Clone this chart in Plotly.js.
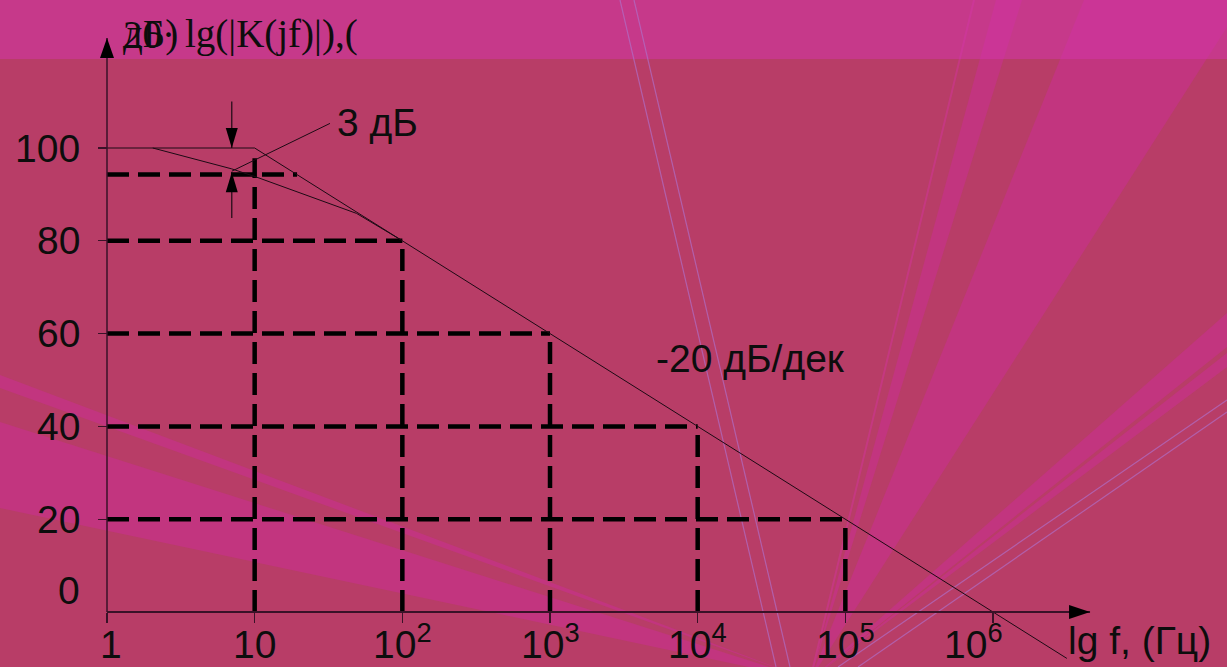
<!DOCTYPE html>
<html>
<head>
<meta charset="utf-8">
<script src="https://cdn.plot.ly/plotly-3.0.1.min.js"></script>
<style>
  html, body { margin: 0; padding: 0; background: #b83d67; }
  #chart { width: 1227px; height: 667px; }
</style>
</head>
<body>
<div id="chart"></div>
<script>
// ---- Data: frequency in decades (lg f), gain in dB ----
const decades = [0, 1, 2, 3, 4, 5, 6];
const decadeLabels = ['1', '10', '10<sup>2</sup>', '10<sup>3</sup>', '10<sup>4</sup>', '10<sup>5</sup>', '10<sup>6</sup>'];
const gainTicks = [0, 20, 40, 60, 80, 100];
const gainLabels = ['0', '20', '40', '60', '80', '100'];

// Asymptotic response: flat at 100 dB up to the corner, then -20 dB/decade
const asymptoteLgF = [0, 1, 6.5];
const asymptoteGain = [100, 100, -10];

// Real response rounding off near the corner
const responseLgF = [0.31, 0.845, 1.015, 1.69, 1.985];
const responseGain = [100, 95.5, 93.7, 85.9, 80.3];

// Read-off levels at each decade
const readoffLgF = [2, 3, 4, 5];
const readoffGain = [80, 60, 40, 20];

// Corner-frequency guide
const cornerLgF = 1;
const cornerGuideTop = 97.8;
const dropLevel = 94.3;
const dropLevelEnd = 1.287;

// 3 dB marker
const markLgF = 0.845;
const markUpper = [110, 100];
const markLower = [84.9, 94.8];
const leaderLgF = [0.845, 1.51];
const leaderGain = [95.0, 105.3];

// Axis extents
const yAxisTop = 123.7;
const xAxisEnd = 6.657;

// ---- Geometry of the drawing area ----
const W = 1227, H = 667;
const originX = 107, originY = 612;      // pixel position of (lg f = 0, 0 dB)
const pxPerDecade = 147.67, pxPerDb = 4.64;
const xRange = [-originX / pxPerDecade, (W - originX) / pxPerDecade];
const yRange = [-(H - originY) / pxPerDb, originY / pxPerDb];

const ink = '#0d0d0d';
const thin = '#1c0a14';
const axisInk = '#3a1228';
const sans = 'Liberation Sans, Arial, sans-serif';
const serif = 'Liberation Serif, Times New Roman, serif';
const textSize = 39;

// ---- Traces ----
const traces = [];
function seg(x, y, color, width, dash) {
  traces.push({
    type: 'scatter', mode: 'lines', x: x, y: y, hoverinfo: 'skip', showlegend: false,
    line: { color: color, width: width, dash: dash || 'solid' }
  });
}
const dashStyle = '22px,9px';
const dashWidth = 4.5;

// dashed read-off grid
readoffLgF.forEach((lf, i) => {
  seg([0, lf], [readoffGain[i], readoffGain[i]], '#000', dashWidth, dashStyle);
  seg([lf, lf], [0, readoffGain[i]], '#000', dashWidth, dashStyle);
});
seg([cornerLgF, cornerLgF], [0, cornerGuideTop], '#000', dashWidth, dashStyle);
seg([0, dropLevelEnd], [dropLevel, dropLevel], '#000', dashWidth, dashStyle);

// responses
seg(asymptoteLgF, asymptoteGain, thin, 1);
seg(responseLgF, responseGain, thin, 1);

// 3 dB marker lines
seg([markLgF, markLgF], markUpper, thin, 1.2);
seg([markLgF, markLgF], markLower, thin, 1.2);
seg(leaderLgF, leaderGain, thin, 1);

// axes
seg([0, 0], [0, yAxisTop], axisInk, 1.5);
seg([0, xAxisEnd], [0, 0], axisInk, 2);

// ---- Background rays and band (pixel-based decoration) ----
function pp(x, y) { return (x / W).toFixed(5) + ',' + (1 - y / H).toFixed(5); }
function poly(pts) { return 'M' + pts.map(p => pp(p[0], p[1])).join('L') + 'Z'; }
const apex = [810, 680];
const rayFill = '#c2357f';
const rays = [
  [[996, 0], [1022, 0], apex],
  [[1084, 0], [1227, 0], [1227, 27], apex],
  [[1227, 313], [1227, 347], apex],
  [[1227, 353], [1227, 367], apex],
  [[0, 375], [0, 388], apex],
  [[0, 422], [0, 508], apex]
];
const shapes = rays.map(r => ({
  type: 'path', xref: 'paper', yref: 'paper', layer: 'below',
  path: poly(r), fillcolor: rayFill, line: { width: 0 }
}));
shapes.push({
  type: 'path', xref: 'paper', yref: 'paper', layer: 'below',
  path: 'M' + pp(974, 0) + 'L' + pp(apex[0], apex[1]),
  line: { color: 'rgba(200,55,135,0.8)', width: 2 }
});
// top band
shapes.push({
  type: 'rect', xref: 'paper', yref: 'paper', layer: 'below',
  x0: 0, x1: 1, y0: 1 - 59 / H, y1: 1,
  fillcolor: 'rgba(212,53,173,0.5)', line: { width: 0 }
});
// faint lavender lines
[[[620, 0], [776, 667]], [[634, 0], [790, 667]], [[1227, 400], [838, 667]], [[1227, 412], [858, 667]]]
  .forEach(l => shapes.push({
    type: 'path', xref: 'paper', yref: 'paper', layer: 'below',
    path: 'M' + pp(l[0][0], l[0][1]) + 'L' + pp(l[1][0], l[1][1]),
    line: { color: 'rgba(175,110,200,0.7)', width: 1.2 }
  }));

// arrowheads (pixel-sized triangles anchored at data points)
function head(xa, ya, path) {
  shapes.push({
    type: 'path', xref: 'x', yref: 'y', xsizemode: 'pixel', ysizemode: 'pixel',
    xanchor: xa, yanchor: ya, path: path, fillcolor: '#000', line: { width: 0 }
  });
}
head(0, yAxisTop, 'M0,0 L-7,-20 L7,-20 Z');
head(xAxisEnd, 0, 'M0,0 L-21,7 L-21,-7 Z');
head(markLgF, markUpper[1], 'M0,0 L-6,20 L6,20 Z');
head(markLgF, markLower[1], 'M0,0 L-6,-20 L6,-20 Z');

// ---- Text ----
const annotations = [];
gainTicks.forEach((g, i) => annotations.push({
  x: 0, y: g, xref: 'x', yref: 'y', text: gainLabels[i], showarrow: false,
  xanchor: 'right', yanchor: 'middle', xshift: -25, yshift: g === 0 ? 22 : 0,
  font: { family: sans, size: textSize, color: ink }
}));
const labelNudge = { 0: 4, 6: -20 };
decades.forEach((d, i) => annotations.push({
  x: d, y: 0, xref: 'x', yref: 'y', text: decadeLabels[i], showarrow: false,
  xanchor: 'center', yanchor: 'bottom', yshift: -55, borderpad: 0, xshift: labelNudge[d] || 0,
  font: { family: sans, size: textSize, color: ink }
}));
annotations.push({
  x: 1067 / W, y: 1 - 640 / H, xref: 'paper', yref: 'paper', text: 'lg f, (Гц)', showarrow: false,
  xanchor: 'left', yanchor: 'middle', borderpad: 0, font: { family: sans, size: textSize, color: ink }
});
annotations.push({
  x: 654 / W, y: 1 - 358 / H, xref: 'paper', yref: 'paper', text: '-20 дБ/дек', showarrow: false,
  xanchor: 'left', yanchor: 'middle', font: { family: sans, size: textSize, color: ink }
});
annotations.push({
  x: 335 / W, y: 1 - 122 / H, xref: 'paper', yref: 'paper', text: '3 дБ', showarrow: false,
  xanchor: 'left', yanchor: 'middle', font: { family: sans, size: textSize, color: ink }
});
// gain axis title (the dB unit is set over the factor 20·)
['20·', 'дБ)'].forEach(t => annotations.push({
  x: 121 / W, y: 1 - 34 / H, xref: 'paper', yref: 'paper', text: t, showarrow: false,
  xanchor: 'left', yanchor: 'middle', font: { family: serif, size: 39, color: ink }
}));
annotations.push({
  x: 183 / W, y: 1 - 34 / H, xref: 'paper', yref: 'paper', text: 'lg(|K(jf)|),(', showarrow: false,
  xanchor: 'left', yanchor: 'middle', font: { family: serif, size: 39, color: ink }
});

const layout = {
  width: W, height: H,
  margin: { l: 0, r: 0, t: 0, b: 0, pad: 0 },
  paper_bgcolor: '#b83d67',
  plot_bgcolor: 'rgba(0,0,0,0)',
  showlegend: false,
  xaxis: {
    range: xRange, anchor: 'free', position: (H - originY) / H,
    showgrid: false, zeroline: false, showline: false,
    ticks: 'outside', ticklen: 10, tickwidth: 1.2, tickcolor: axisInk,
    tickmode: 'array', tickvals: decades, showticklabels: false, fixedrange: true
  },
  yaxis: {
    range: yRange, anchor: 'free', position: originX / W,
    showgrid: false, zeroline: false, showline: false,
    ticks: 'outside', ticklen: 9, tickwidth: 1.2, tickcolor: axisInk,
    tickmode: 'array', tickvals: gainTicks.slice(1), showticklabels: false, fixedrange: true
  },
  shapes: shapes,
  annotations: annotations
};

Plotly.newPlot('chart', traces, layout, { staticPlot: true, displayModeBar: false });
</script>
</body>
</html>
